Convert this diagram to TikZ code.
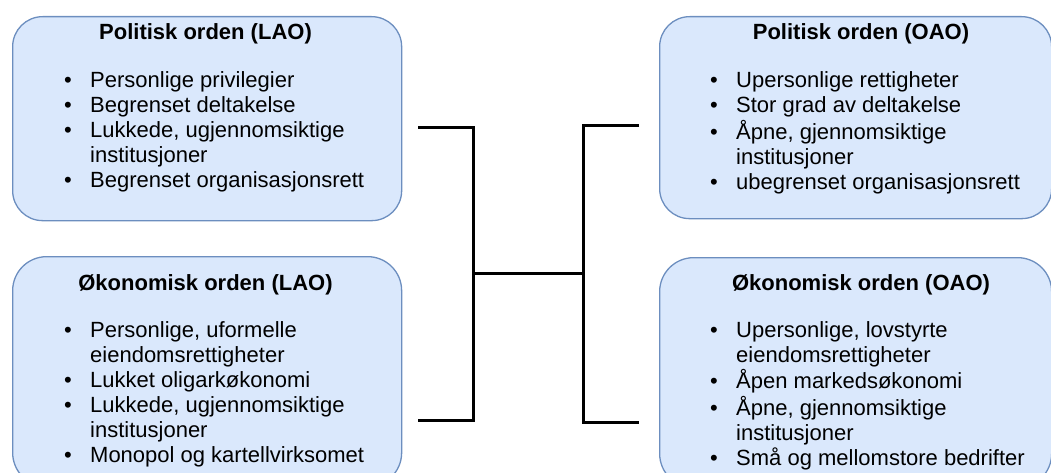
\documentclass[tikz,border=0pt]{standalone}
\usepackage{fontspec}
\setmainfont{Liberation Sans}
\definecolor{boxfill}{HTML}{dae8fc}
\definecolor{boxline}{HTML}{6c8ebf}
\usetikzlibrary{calc}
\newcommand{\pkt}{\makebox[26pt][l]{\textbullet}}
\tikzset{
  ordbox/.style={draw=boxline, fill=boxfill, line width=1.3pt, rounded corners=30pt,
    anchor=north west, minimum width=389pt, inner sep=0pt},
  tittel/.style={anchor=base, inner sep=0pt, font=\fontsize{22}{25}\selectfont\bfseries},
  punkter/.style={anchor=base west, inner sep=0pt, font=\fontsize{22}{25}\selectfont},
  klamme/.style={draw=black, line width=3pt}
}

\begin{document}
\begin{tikzpicture}[x=1pt, y=-1pt]
    \useasboundingbox (0,0) rectangle (1051,473);

    % LAO boxes
    \node [ordbox, minimum height=204pt] (pollao) at (12,16) {};
    \node [ordbox, minimum height=230pt, rounded corners=34pt] (oklao) at (12,256) {};

    % OAO boxes
    \node [ordbox, minimum width=392pt, minimum height=202pt] (poloao) at (659,16) {};
    \node [ordbox, minimum width=392pt, minimum height=230pt, rounded corners=34pt] (okoao) at (659,257) {};

    % titles
    \node [tittel] (pollao-t) at (205.5,40) {Politisk orden (LAO)};
    \node [tittel] (oklao-t) at (205.5,290) {Økonomisk orden (LAO)};
    \node [tittel] (poloao-t) at (861,40) {Politisk orden (OAO)};
    \node [tittel] (okoao-t) at (861,290) {Økonomisk orden (OAO)};

    % bullet lists
    \node [punkter] (pollao-l) at (64,88) {\begin{tabular}[t]{@{}l@{}l@{}}
        \pkt & Personlige privilegier\\
        \pkt & Begrenset deltakelse\\
        \pkt & Lukkede, ugjennomsiktige\\
             & institusjoner\\
        \pkt & Begrenset organisasjonsrett
      \end{tabular}};
    \node [punkter] (oklao-l) at (64,337) {\begin{tabular}[t]{@{}l@{}l@{}}
        \pkt & Personlige, uformelle\\
             & eiendomsrettigheter\\
        \pkt & Lukket oligarkøkonomi\\
        \pkt & Lukkede, ugjennomsiktige\\
             & institusjoner\\
        \pkt & Monopol og kartellvirksomet
      \end{tabular}};
    \node [punkter] (poloao-l) at (710,88) {\begin{tabular}[t]{@{}l@{}l@{}}
        \pkt & Upersonlige rettigheter\\
        \pkt & Stor grad av deltakelse\\
        \pkt & Åpne, gjennomsiktige\\
             & institusjoner\\
        \pkt & ubegrenset organisasjonsrett
      \end{tabular}};
    \node [punkter] (okoao-l) at (710,337) {\begin{tabular}[t]{@{}l@{}l@{}}
        \pkt & Upersonlige, lovstyrte\\
             & eiendomsrettigheter\\
        \pkt & Åpen markedsøkonomi\\
        \pkt & Åpne, gjennomsiktige\\
             & institusjoner\\
        \pkt & Små og mellomstore bedrifter
      \end{tabular}};

    % brackets
    \coordinate (lo) at (418,128);
    \coordinate (lu) at (418,420);
    \coordinate (lm) at (473,273);
    \coordinate (ro) at (639,126);
    \coordinate (ru) at (639,422);
    \coordinate (rm) at (583,273);

    \draw [klamme] (lo) -| (lm) |- (lu);
    \draw [klamme] (ro) -| (rm) |- (ru);
    \draw [klamme] (lm) -- (rm);
\end{tikzpicture}
\end{document}
